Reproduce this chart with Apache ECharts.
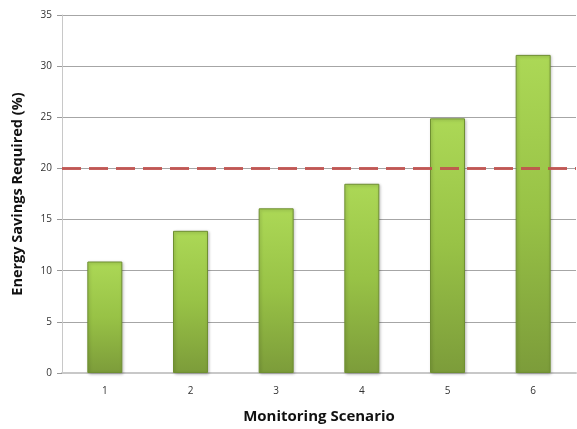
<!DOCTYPE html>
<html>
<head>
<meta charset="utf-8">
<style>
  html, body { margin: 0; padding: 0; background: #fff; }
  #chart { width: 577px; height: 429px; }
</style>
<script src="https://cdn.jsdelivr.net/npm/echarts@6/dist/echarts.min.js"></script>
</head>
<body>
<div id="chart"></div>
<script>
// Monitoring scenarios and the energy savings each one requires
const scenarios = ['1', '2', '3', '4', '5', '6'];
const savingsRequired = [10.9, 13.9, 16.1, 18.5, 24.9, 31.1];
const targetSavings = 20;
const yTicks = [0, 5, 10, 15, 20, 25, 30, 35];

const chart = echarts.init(document.getElementById('chart'));

const barFill = {
  type: 'linear', x: 0, y: 0, x2: 0, y2: 1,
  colorStops: [
    { offset: 0, color: '#acd856' },
    { offset: 0.5, color: '#98c246' },
    { offset: 1, color: '#7c9c3a' }
  ]
};

chart.setOption({
  animation: false,
  textStyle: { fontFamily: 'Open Sans, sans-serif' },
  grid: { left: 62, right: 1, top: 15, bottom: 56 },
  xAxis: {
    type: 'category',
    data: scenarios,
    name: 'Monitoring Scenario',
    nameLocation: 'middle',
    nameGap: 36,
    nameTextStyle: { fontSize: 15, fontWeight: 'bold', color: '#111' },
    axisLine: { lineStyle: { color: '#c8c8c8', width: 2 } },
    axisTick: { show: false },
    axisLabel: { fontSize: 10, color: '#333', margin: 13 }
  },
  yAxis: {
    type: 'value',
    min: yTicks[0],
    max: yTicks[yTicks.length - 1],
    interval: 5,
    name: 'Energy Savings Required (%)',
    nameLocation: 'middle',
    nameGap: 37,
    nameTextStyle: { fontSize: 14.5, fontWeight: 'bold', color: '#111' },
    axisLine: { show: true, lineStyle: { color: '#c8c8c8', width: 1 } },
    axisTick: { show: true, length: 5, lineStyle: { color: '#999' } },
    axisLabel: { fontSize: 10, color: '#333', margin: 10 },
    splitLine: { lineStyle: { color: '#a6a6a6', width: 1 } }
  },
  series: [{
    type: 'bar',
    data: savingsRequired,
    barWidth: 35,
    itemStyle: {
      color: barFill,
      borderColor: '#6f8f32',
      borderWidth: 1,
      shadowColor: 'rgba(0,0,0,0.25)',
      shadowBlur: 3,
      shadowOffsetX: 1,
      shadowOffsetY: 1
    },
    markLine: {
      symbol: 'none',
      silent: true,
      label: { show: false },
      lineStyle: { color: '#c0504d', type: [19, 8], width: 3, opacity: 0.9 },
      data: [{ yAxis: targetSavings }]
    }
  }]
});
</script>
</body>
</html>
